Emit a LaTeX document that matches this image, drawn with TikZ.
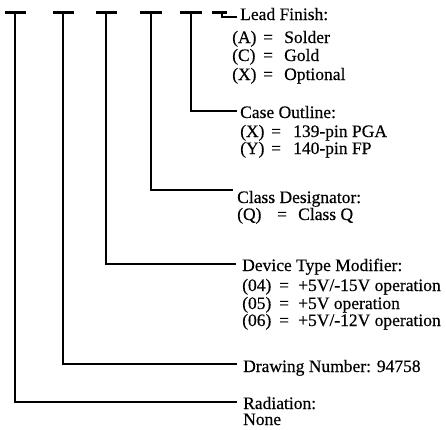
\documentclass[tikz,border=0pt]{standalone}
\usepackage{fontspec}
\setmainfont{Liberation Serif}[FakeBold=0.4]
\begin{document}
\begin{tikzpicture}[x=1pt,y=-1pt,
  txt/.style={inner sep=0pt,anchor=base west,font=\fontsize{17.5}{20}\selectfont},
  bar/.style={line width=3pt},
  conn/.style={line width=1.6pt}]
\useasboundingbox (0,0) rectangle (446,429);
% top bars
\coordinate (b1) at (15,12);
\coordinate (b2) at (63,12);
\coordinate (b3) at (106,12);
\coordinate (b4) at (151,12);
\coordinate (b5) at (191,12);
\coordinate (b6) at (222,12);
\draw[bar] (5,12) -- (26,12);
\draw[bar] (53,12) -- (74,12);
\draw[bar] (96,12) -- (117,12);
\draw[bar] (140,12) -- (162,12);
\draw[bar] (180,12) -- (202,12);
\draw[bar] (212,12) -- (227,12);
% texts
\node[txt] (lead) at (240,20) {Lead Finish:};
\node[txt] (la) at (232,43) {(A)};
\node[txt] at (263,43) {=};
\node[txt] at (284,43) {Solder};
\node[txt] (lc) at (232,61) {(C)};
\node[txt] at (263,61) {=};
\node[txt] at (284,61) {Gold};
\node[txt] (lx) at (232,80) {(X)};
\node[txt] at (263,80) {=};
\node[txt] at (284,80) {Optional};

\node[txt] (case) at (240,118) {Case Outline:};
\node[txt] at (240,137) {(X)};
\node[txt] at (271,137) {=};
\node[txt] at (293,137) {139-pin PGA};
\node[txt] at (240,154) {(Y)};
\node[txt] at (271,154) {=};
\node[txt] at (293,154) {140-pin FP};

\node[txt] (cls) at (237,203) {Class Designator:};
\node[txt] at (237,220) {(Q)};
\node[txt] at (277,220) {=};
\node[txt] at (298,220) {Class Q};

\node[txt] (dev) at (242,271) {Device Type Modifier:};
\node[txt] at (242,291) {(04)};
\node[txt] at (279,291) {=};
\node[txt] at (298,291) {+5V/-15V operation};
\node[txt] at (242,309) {(05)};
\node[txt] at (279,309) {=};
\node[txt] at (298,309) {+5V operation};
\node[txt] at (242,326) {(06)};
\node[txt] at (279,326) {=};
\node[txt] at (298,326) {+5V/-12V operation};

\node[txt] (drw) at (243,372) {Drawing Number: 94758};
\node[txt] (rad) at (243,409) {Radiation:};
\node[txt] at (243,425) {None};
% connector end points
\coordinate (e6) at (237,17);
\coordinate (e5) at (237,111);
\coordinate (e4) at (233,190);
\coordinate (e3) at (236,264);
\coordinate (e2) at (237,364);
\coordinate (e1) at (237,402);
% connectors
\draw[conn] (b6) |- (e6);
\draw[conn] (b5) |- (e5);
\draw[conn] (b4) |- (e4);
\draw[conn] (b3) |- (e3);
\draw[conn] (b2) |- (e2);
\draw[conn] (b1) |- (e1);
\end{tikzpicture}
\end{document}
